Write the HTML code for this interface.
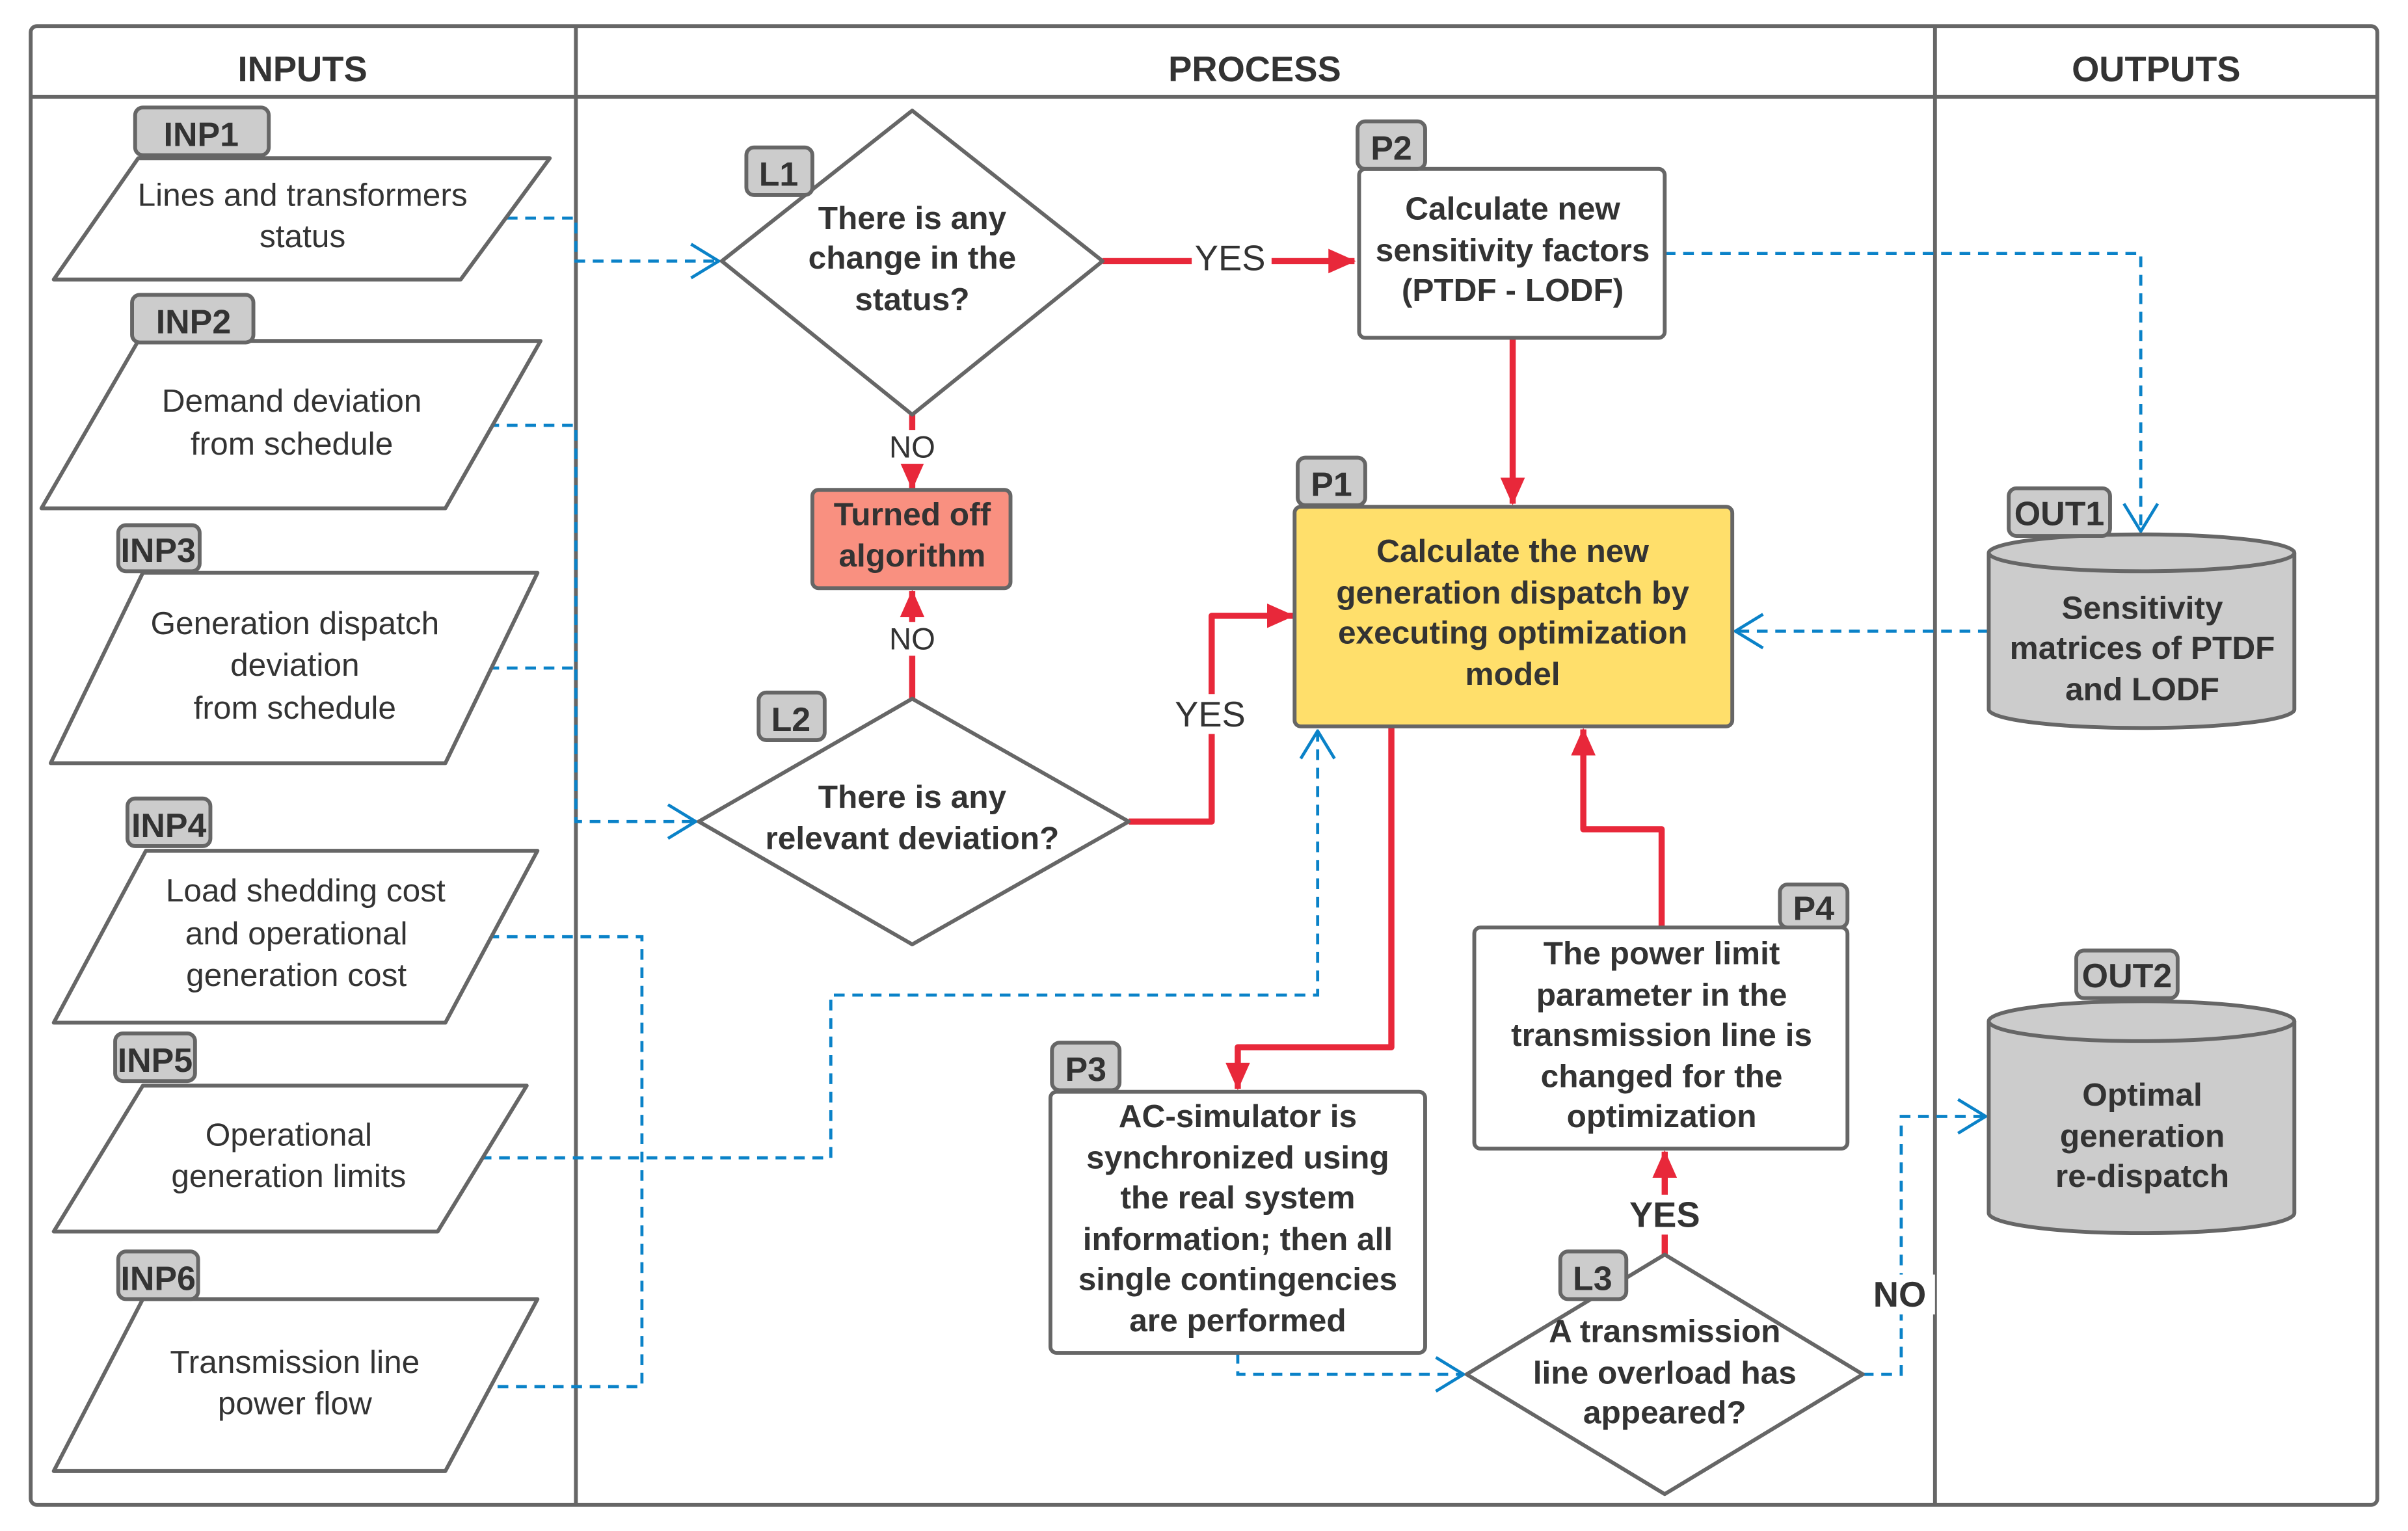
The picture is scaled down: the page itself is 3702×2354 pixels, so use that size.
<!DOCTYPE html>
<html><head><meta charset="utf-8"><style>
html,body{margin:0;padding:0;background:#fff;}
svg{display:block;}
text{font-family:"Liberation Sans",sans-serif;fill:#333;}
.b{font-weight:bold;}
</style></head><body>
<svg width="3702" height="2354" viewBox="0 0 1568 997" xmlns="http://www.w3.org/2000/svg">
<defs>
<marker id="ra" markerWidth="18" markerHeight="16" refX="17" refY="8" orient="auto" markerUnits="userSpaceOnUse" viewBox="0 0 18 16"><path d="M0,0 L18,8 L0,16 z" fill="#e8283a"/></marker>
<marker id="ba" markerWidth="20" markerHeight="24" refX="19" refY="12" orient="auto" markerUnits="userSpaceOnUse"><path d="M1,1 L19,12 L1,23" fill="none" stroke="#0a82c8" stroke-width="2"/></marker>
</defs>
<rect x="0" y="0" width="1568" height="997" fill="#fff"/>
<g stroke="#666" stroke-width="2.5" fill="none">
<rect x="20" y="17" width="1528" height="963" rx="4"/>
<line x1="20" y1="63" x2="1548" y2="63"/>
<line x1="375" y1="17" x2="375" y2="980"/>
<line x1="1260" y1="17" x2="1260" y2="980"/>
</g>
<g class="b" font-size="23" text-anchor="middle">
<text x="197" y="53" class="b">INPUTS</text>
<text x="817" y="53" class="b">PROCESS</text>
<text x="1404" y="53" class="b">OUTPUTS</text>
</g>

<g stroke="#0a82c8" stroke-width="2" fill="none" stroke-dasharray="7,5">
<polyline points="330,142 375,142 375,170 468,170" marker-end="url(#ba)"/>
<polyline points="318,277 375,277 375,535 453,535" marker-end="url(#ba)"/>
<polyline points="318,435 375,435"/>
<polyline points="318,610 418,610 418,903 318,903"/>
<polyline points="313,754 541,754 541,648 858,648 858,476" marker-end="url(#ba)"/>
<polyline points="1084,165 1394,165 1394,346" marker-end="url(#ba)"/>
<polyline points="1295,411 1130,411" marker-end="url(#ba)"/>
<polyline points="806,881 806,895 953,895" marker-end="url(#ba)"/>
<polyline points="1213,895 1238,895 1238,727 1293,727" marker-end="url(#ba)"/>
</g>

<g stroke="#e8283a" stroke-width="4" fill="none" stroke-linejoin="round">
<polyline points="718,170 882,170" marker-end="url(#ra)"/>
<polyline points="594,270 594,318" marker-end="url(#ra)"/>
<polyline points="594,455 594,385" marker-end="url(#ra)"/>
<polyline points="735,535 789,535 789,401 842,401" marker-end="url(#ra)"/>
<polyline points="985,220 985,328" marker-end="url(#ra)"/>
<polyline points="906,473 906,682 806,682 806,709" marker-end="url(#ra)"/>
<polyline points="1082,604 1082,540 1031,540 1031,475" marker-end="url(#ra)"/>
<polyline points="1084,817 1084,750" marker-end="url(#ra)"/>
</g>
<g font-size="23" text-anchor="middle">
<rect x="776" y="153" width="52" height="28" fill="#fff"/>
<text x="801" y="176">YES</text>
<rect x="576" y="280" width="36" height="22" fill="#fff"/>
<text x="594" y="298" font-size="20">NO</text>
<rect x="576" y="405" width="36" height="22" fill="#fff"/>
<text x="594" y="423" font-size="20">NO</text>
<rect x="761" y="452" width="54" height="26" fill="#fff"/>
<text x="788" y="473">YES</text>
<rect x="1058" y="778" width="54" height="26" fill="#fff"/>
<text x="1084" y="799" class="b">YES</text>
<rect x="1216" y="830" width="44" height="26" fill="#fff"/>
<text x="1237" y="851" class="b">NO</text>
</g>

<g stroke="#666" stroke-width="2.5" fill="#fff" stroke-linejoin="round">
<polygon points="35,182 90,103 358,103 300,182"/>
<polygon points="27,331 90,222 352,222 290,331"/>
<polygon points="33,497 93,373 350,373 290,497"/>
<polygon points="35,666 95,554 350,554 290,666"/>
<polygon points="35,802 93,707 343,707 285,802"/>
<polygon points="35,958 93,846 350,846 290,958"/>
</g>
<g font-size="21" text-anchor="middle">
<text x="197" y="134">Lines and transformers</text><text x="197" y="161">status</text>
<text x="190" y="268">Demand deviation</text><text x="190" y="296">from schedule</text>
<text x="192" y="413">Generation dispatch</text><text x="192" y="440">deviation</text><text x="192" y="468">from schedule</text>
<text x="199" y="587">Load shedding cost</text><text x="193" y="615">and operational</text><text x="193" y="642">generation cost</text>
<text x="188" y="746">Operational</text><text x="188" y="773">generation limits</text>
<text x="192" y="894">Transmission line</text><text x="192" y="921">power flow</text>
</g>

<g stroke="#666" stroke-width="2.5" fill="#fff" stroke-linejoin="round">
<polygon points="594,72 718,170 594,270 470,170"/>
<polygon points="594,455 735,535 594,615 455,535"/>
<polygon points="1084,817 1213,895 1084,973 955,895"/>
</g>
<g class="b" font-size="21" text-anchor="middle">
<text x="594" y="149" class="b">There is any</text><text x="594" y="175" class="b">change in the</text><text x="594" y="202" class="b">status?</text>
<text x="594" y="526" class="b">There is any</text><text x="594" y="553" class="b">relevant deviation?</text>
<text x="1084" y="874" class="b">A transmission</text><text x="1084" y="901" class="b">line overload has</text><text x="1084" y="927" class="b">appeared?</text>
</g>

<g stroke="#666" stroke-width="2.5" stroke-linejoin="round">
<rect x="885" y="110" width="199" height="110" rx="4" fill="#fff"/>
<rect x="843" y="330" width="285" height="143" rx="4" fill="#ffdf6b"/>
<rect x="529" y="319" width="129" height="64" rx="4" fill="#f99080"/>
<rect x="684" y="711" width="244" height="170" rx="4" fill="#fff"/>
<rect x="960" y="604" width="243" height="144" rx="4" fill="#fff"/>
</g>
<g class="b" font-size="21" text-anchor="middle">
<text x="985" y="143" class="b">Calculate new</text><text x="985" y="170" class="b">sensitivity factors</text><text x="985" y="196" class="b">(PTDF - LODF)</text>
<text x="985" y="366" class="b">Calculate the new</text><text x="985" y="393" class="b">generation dispatch by</text><text x="985" y="419" class="b">executing optimization</text><text x="985" y="446" class="b">model</text>
<text x="594" y="342" class="b">Turned off</text><text x="594" y="369" class="b">algorithm</text>
<text x="806" y="734" class="b">AC-simulator is</text><text x="806" y="761" class="b">synchronized using</text><text x="806" y="787" class="b">the real system</text><text x="806" y="814" class="b">information; then all</text><text x="806" y="840" class="b">single contingencies</text><text x="806" y="867" class="b">are performed</text>
<text x="1082" y="628" class="b">The power limit</text><text x="1082" y="655" class="b">parameter in the</text><text x="1082" y="681" class="b">transmission line is</text><text x="1082" y="708" class="b">changed for the</text><text x="1082" y="734" class="b">optimization</text>
</g>

<g stroke="#666" stroke-width="2.5" fill="#ccc">
<path d="M1295,360 L1295,462 A99,12 0 0 0 1494,462 L1494,360"/>
<ellipse cx="1394.5" cy="360" rx="99.5" ry="12"/>
<path d="M1295,665 L1295,790 A99,13 0 0 0 1494,790 L1494,665"/>
<ellipse cx="1394.5" cy="665" rx="99.5" ry="13"/>
</g>
<g class="b" font-size="21" text-anchor="middle">
<text x="1395" y="403" class="b">Sensitivity</text><text x="1395" y="429" class="b">matrices of  PTDF</text><text x="1395" y="456" class="b">and LODF</text>
<text x="1395" y="720" class="b">Optimal</text><text x="1395" y="747" class="b">generation</text><text x="1395" y="773" class="b">re-dispatch</text>
</g>

<g stroke="#666" stroke-width="2.5" fill="#ccc">
<rect x="88" y="70" width="87" height="31" rx="5"/>
<rect x="86" y="192" width="79" height="31" rx="5"/>
<rect x="77" y="342" width="53" height="30" rx="5"/>
<rect x="83" y="520" width="54" height="31" rx="5"/>
<rect x="75" y="673" width="52" height="31" rx="5"/>
<rect x="77" y="815" width="52" height="31" rx="5"/>
<rect x="486" y="96" width="43" height="31" rx="5"/>
<rect x="494" y="451" width="43" height="31" rx="5"/>
<rect x="1016" y="815" width="43" height="31" rx="5"/>
<rect x="884" y="79" width="44" height="31" rx="5"/>
<rect x="845" y="298" width="44" height="31" rx="5"/>
<rect x="685" y="679" width="44" height="31" rx="5"/>
<rect x="1159" y="576" width="44" height="28" rx="5"/>
<rect x="1308" y="318" width="66" height="31" rx="5"/>
<rect x="1352" y="619" width="66" height="31" rx="5"/>
</g>
<g class="b" font-size="22" text-anchor="middle">
<text x="131" y="95" class="b">INP1</text>
<text x="126" y="217" class="b">INP2</text>
<text x="103" y="366" class="b">INP3</text>
<text x="110" y="545" class="b">INP4</text>
<text x="101" y="698" class="b">INP5</text>
<text x="103" y="840" class="b">INP6</text>
<text x="507" y="121" class="b">L1</text>
<text x="515" y="476" class="b">L2</text>
<text x="1037" y="840" class="b">L3</text>
<text x="906" y="104" class="b">P2</text>
<text x="867" y="323" class="b">P1</text>
<text x="707" y="704" class="b">P3</text>
<text x="1181" y="599" class="b">P4</text>
<text x="1341" y="342" class="b">OUT1</text>
<text x="1385" y="643" class="b">OUT2</text>
</g>
</svg>
</body></html>
